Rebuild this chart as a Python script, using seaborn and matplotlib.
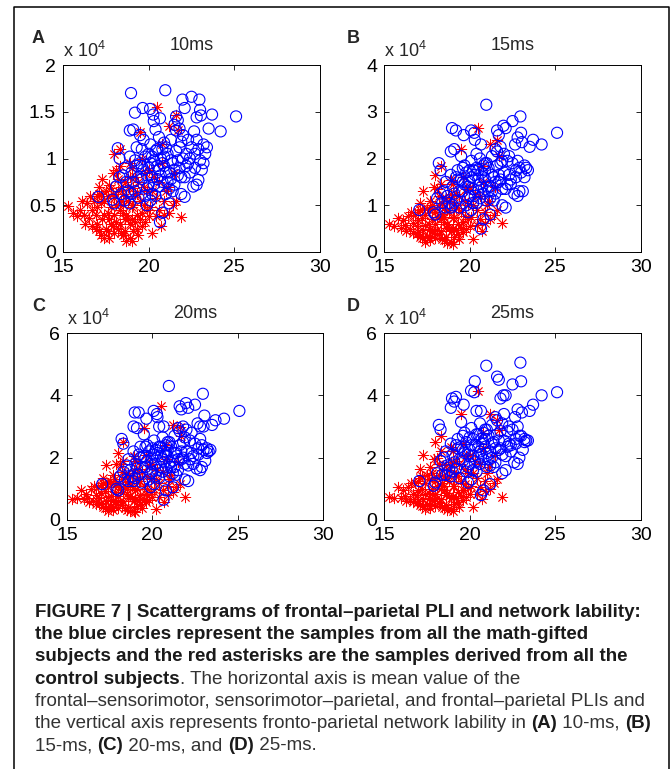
import matplotlib
matplotlib.use('Agg')
import matplotlib.pyplot as plt
from matplotlib.lines import Line2D
import seaborn as sns

# ------------------- data -------------------
# mean frontal-sensorimotor / sensorimotor-parietal / frontal-parietal PLI (same in all panels)
gifted_pli = [18.97, 20.97, 22.50, 22.96, 25.10, 23.70, 24.20, 23.50, 19.20, 19.65,
              20.08, 20.27, 20.66, 21.70, 22.10, 21.97, 23.00, 23.05, 22.80, 22.65,
              18.90, 19.10, 20.40, 18.20, 17.06, 20.66, 22.10, 22.80, 22.90, 17.90,
              18.00, 18.90, 21.20, 20.80, 19.90, 21.50, 21.60, 22.30, 23.20, 23.30,
              23.00, 22.70, 22.40, 23.10, 22.20, 21.90, 21.30, 20.90, 20.50, 20.10,
              19.70, 19.30, 18.90, 18.60, 18.30, 18.10, 18.40, 18.70, 19.00, 19.20,
              19.50, 19.60, 19.80, 19.90, 20.00, 20.20, 20.30, 20.40, 20.60, 20.70,
              20.80, 20.90, 21.00, 21.10, 21.20, 21.40, 21.50, 21.60, 21.80, 21.90,
              22.00, 22.10, 22.30, 22.50, 22.60, 19.40, 19.70, 20.10, 20.50, 20.20,
              20.80, 21.30, 21.70, 22.20, 19.00, 18.50, 19.30, 20.00, 21.00, 21.40,
              22.70, 23.40, 22.00, 21.80, 20.60, 19.50, 21.60, 20.30, 18.30, 19.10,
              19.60, 19.90, 20.10, 20.30, 20.50, 20.70, 20.90, 21.10, 21.30, 21.50,
              21.70, 21.90, 19.80, 20.40, 20.00, 19.40, 19.20, 18.80, 18.60, 21.20,
              20.60, 20.20, 21.80, 22.40, 22.90, 23.20, 22.80, 20.80, 21.00, 19.60]

# network lability (x 10^4)
gifted_10ms = [1.70, 1.73, 1.66, 1.63, 1.45, 1.47, 1.29, 1.32, 1.49, 1.54,
               1.53, 1.47, 1.43, 1.41, 1.54, 1.63, 1.52, 1.46, 1.44, 1.29,
               1.30, 1.31, 1.31, 1.11, 0.59, 0.32, 0.59, 0.72, 0.77, 0.56,
               0.52, 0.52, 0.52, 0.42, 0.50, 1.36, 1.30, 1.20, 1.15, 1.05,
               0.98, 0.90, 0.85, 0.88, 1.05, 1.18, 1.20, 1.17, 1.10, 1.15,
               1.20, 1.12, 1.02, 0.90, 0.80, 0.70, 0.62, 0.75, 0.85, 0.65,
               0.95, 0.78, 1.02, 0.68, 0.90, 0.80, 0.98, 0.60, 0.88, 1.00,
               0.75, 0.92, 0.62, 1.05, 0.85, 0.95, 0.72, 1.08, 0.90, 0.62,
               1.00, 0.80, 0.95, 1.12, 0.70, 0.58, 0.88, 0.55, 0.78, 1.02,
               1.10, 0.78, 0.82, 0.92, 0.62, 0.82, 0.92, 0.72, 0.85, 0.65,
               1.05, 1.12, 1.25, 1.32, 1.23, 1.25, 1.45, 1.40, 1.00, 0.75,
               0.92, 0.82, 0.95, 0.72, 0.92, 0.82, 1.02, 0.75, 0.98, 0.88,
               0.98, 0.80, 0.60, 1.08, 1.05, 0.80, 0.98, 0.65, 0.55, 0.68,
               0.70, 0.62, 1.12, 1.00, 1.10, 0.95, 1.20, 0.95, 1.12, 1.10]
gifted_15ms = [2.65, 3.15, 2.80, 2.90, 2.55, 2.40, 2.30, 2.25, 2.60, 2.50,
               2.60, 2.55, 2.30, 2.50, 2.65, 2.70, 2.55, 2.35, 2.45, 2.30,
               2.15, 2.20, 2.10, 1.90, 0.90, 0.50, 0.95, 1.20, 1.30, 0.85,
               0.80, 0.95, 0.80, 0.70, 0.85, 2.20, 2.15, 2.05, 1.85, 1.80,
               1.70, 1.60, 1.45, 1.30, 1.95, 1.95, 2.05, 1.90, 1.75, 1.95,
               1.85, 1.75, 1.65, 1.50, 1.25, 1.15, 1.05, 1.20, 1.40, 1.10,
               1.55, 1.30, 1.70, 1.15, 1.50, 1.35, 1.65, 1.05, 1.45, 1.70,
               1.25, 1.55, 1.10, 1.80, 1.40, 1.60, 1.25, 1.85, 1.55, 1.00,
               1.70, 1.35, 1.65, 1.90, 1.25, 0.95, 1.45, 0.90, 1.30, 1.75,
               1.85, 1.30, 1.50, 1.45, 1.00, 1.30, 1.55, 1.20, 1.40, 1.10,
               1.75, 1.75, 2.10, 2.25, 2.00, 2.05, 2.60, 2.40, 1.75, 1.25,
               1.50, 1.40, 1.60, 1.20, 1.55, 1.40, 1.75, 1.30, 1.65, 1.50,
               1.65, 1.35, 1.00, 1.80, 1.75, 1.30, 1.60, 1.05, 0.95, 1.15,
               1.15, 1.05, 1.90, 1.55, 1.80, 1.60, 1.95, 1.60, 1.90, 1.80]
gifted_20ms = [3.45, 4.30, 3.70, 4.05, 3.50, 3.20, 3.25, 3.05, 3.45, 3.25,
               3.50, 3.40, 3.00, 3.55, 3.60, 3.75, 3.00, 3.35, 3.00, 3.10,
               3.00, 2.95, 3.00, 2.60, 1.15, 0.65, 1.25, 1.60, 1.70, 1.00,
               0.95, 1.25, 1.05, 0.95, 1.05, 2.95, 2.85, 2.80, 2.30, 2.20,
               2.25, 2.10, 1.80, 1.90, 2.55, 2.65, 2.70, 2.50, 2.35, 2.55,
               2.40, 2.35, 2.20, 1.95, 1.55, 1.40, 1.30, 1.60, 1.80, 1.45,
               2.05, 1.70, 2.20, 1.50, 2.00, 1.80, 2.15, 1.35, 1.95, 2.20,
               1.65, 2.05, 1.40, 2.35, 1.90, 2.15, 1.60, 2.40, 2.00, 1.30,
               2.20, 1.75, 2.15, 2.45, 1.65, 1.20, 1.90, 1.15, 1.70, 2.25,
               2.40, 1.70, 1.95, 1.95, 1.35, 1.75, 2.00, 1.55, 1.85, 1.45,
               2.30, 2.25, 2.90, 3.00, 2.65, 2.75, 3.65, 3.30, 2.45, 1.65,
               2.00, 1.80, 2.10, 1.60, 2.05, 1.85, 2.25, 1.70, 2.15, 1.95,
               2.20, 1.80, 1.30, 2.35, 2.30, 1.70, 2.10, 1.40, 1.25, 1.50,
               1.55, 1.40, 2.50, 2.05, 2.40, 2.15, 2.60, 2.10, 2.50, 2.35]
gifted_25ms = [3.90, 4.95, 4.35, 5.05, 4.10, 3.70, 4.00, 3.50, 3.95, 3.70,
               4.15, 4.10, 3.50, 4.50, 4.00, 4.00, 4.45, 3.45, 3.55, 3.30,
               3.60, 3.80, 3.50, 3.05, 1.25, 0.80, 1.60, 1.80, 2.00, 1.10,
               1.20, 1.40, 1.15, 0.95, 1.20, 3.30, 3.20, 3.00, 2.60, 2.55,
               2.70, 2.45, 2.20, 2.25, 2.85, 3.10, 3.05, 2.90, 2.75, 2.95,
               2.80, 2.60, 2.45, 2.20, 1.90, 1.50, 1.45, 1.75, 2.10, 1.65,
               2.35, 1.90, 2.50, 1.70, 2.25, 2.05, 2.40, 1.55, 2.20, 2.60,
               1.95, 2.35, 1.70, 2.70, 2.20, 2.50, 1.85, 2.75, 2.30, 1.50,
               2.55, 2.05, 2.45, 2.90, 1.85, 1.35, 2.15, 1.30, 2.00, 2.60,
               2.80, 2.00, 2.25, 2.35, 1.55, 2.00, 2.30, 1.80, 2.15, 1.70,
               2.60, 2.55, 3.40, 3.90, 3.10, 3.15, 4.60, 4.45, 2.90, 1.85,
               2.25, 2.10, 2.40, 1.85, 2.35, 2.10, 2.60, 1.95, 2.45, 2.30,
               2.55, 2.10, 1.55, 2.75, 2.65, 1.95, 2.40, 1.60, 1.45, 1.75,
               1.80, 1.60, 2.85, 2.40, 2.70, 2.50, 3.00, 2.45, 2.90, 2.70]

control_pli = [15.30, 15.60, 15.80, 16.00, 16.20, 16.40, 16.50, 16.70, 16.80, 17.00,
               17.10, 17.20, 17.30, 17.40, 17.50, 17.60, 17.70, 17.80, 17.90, 18.00,
               18.10, 18.20, 18.30, 18.40, 18.50, 18.60, 18.70, 18.80, 18.90, 19.00,
               19.10, 19.20, 19.30, 19.40, 19.50, 19.60, 19.70, 19.80, 20.00, 20.20,
               20.40, 20.50, 20.60, 20.80, 21.00, 21.20, 21.40, 21.60, 21.70, 21.90,
               21.50, 20.30, 16.90, 17.20, 17.50, 17.70, 17.90, 18.00, 18.10, 18.30,
               18.50, 18.60, 18.80, 18.90, 19.00, 19.20, 19.40, 19.50, 19.90, 20.10,
               17.30, 17.00, 16.60, 17.60, 18.20, 18.70, 19.10, 19.30, 18.40, 17.80,
               16.30, 20.70, 21.20, 18.90, 18.00, 19.60, 20.90, 17.10, 19.80, 18.50,
               16.70, 16.90, 17.10, 17.20, 17.40, 17.40, 17.60, 17.70, 17.80, 17.90,
               18.00, 18.10, 18.20, 18.30, 18.40, 18.50, 18.60, 18.70, 18.80, 18.90,
               19.00, 19.10, 19.20, 19.30, 19.50, 19.70, 19.90, 20.00, 20.20, 20.40,
               20.60, 20.90, 21.10, 21.60, 16.10, 17.00, 18.30, 19.60, 20.80, 19.00]
control_10ms = [0.49, 0.42, 0.38, 0.45, 0.40, 0.52, 0.36, 0.45, 0.55, 0.30,
                0.70, 0.18, 0.78, 0.40, 0.25, 0.60, 0.15, 0.48, 0.85, 1.05,
                0.32, 0.65, 1.10, 0.20, 0.42, 0.75, 0.12, 0.55, 0.30, 0.90,
                0.22, 0.62, 0.40, 0.75, 1.28, 0.28, 0.50, 0.85, 0.38, 0.20,
                0.58, 1.55, 0.45, 0.95, 0.65, 1.35, 0.50, 1.47, 1.30, 0.37,
                0.85, 0.80, 0.25, 0.52, 0.65, 0.35, 0.28, 0.58, 0.88, 0.45,
                0.18, 0.35, 0.70, 0.15, 0.48, 0.32, 0.18, 0.55, 0.65, 0.48,
                0.35, 0.48, 0.60, 0.22, 0.25, 0.40, 0.68, 0.25, 0.55, 0.68,
                0.30, 0.28, 0.42, 0.95, 0.40, 0.42, 0.55, 0.62, 0.32, 0.62,
                0.28, 0.40, 0.22, 0.62, 0.55, 0.15, 0.42, 0.72, 0.30, 0.62,
                0.20, 0.50, 0.78, 0.30, 0.70, 0.50, 0.22, 0.60, 0.35, 0.80,
                0.35, 0.50, 0.80, 0.62, 0.35, 0.70, 0.45, 0.88, 0.65, 0.38,
                0.75, 0.40, 0.70, 0.55, 0.55, 0.60, 0.92, 1.00, 1.15, 0.12]
control_15ms = [0.60, 0.55, 0.72, 0.52, 0.58, 0.78, 0.50, 0.62, 0.80, 0.42,
                1.05, 0.30, 1.30, 0.58, 0.35, 0.90, 0.25, 0.70, 1.40, 1.65,
                0.48, 1.00, 1.85, 0.28, 0.65, 1.15, 0.20, 0.85, 0.45, 1.45,
                0.32, 0.95, 0.60, 1.20, 2.20, 0.42, 0.78, 1.35, 0.55, 0.28,
                0.90, 2.65, 0.70, 1.50, 1.00, 2.30, 0.80, 2.40, 2.05, 0.62,
                1.40, 1.25, 0.38, 0.72, 0.95, 0.50, 0.40, 0.85, 1.35, 0.70,
                0.25, 0.52, 1.10, 0.22, 0.72, 0.48, 0.28, 0.85, 1.00, 0.75,
                0.48, 0.68, 0.85, 0.32, 0.38, 0.60, 1.05, 0.38, 0.82, 1.00,
                0.45, 0.45, 0.70, 1.55, 0.60, 0.65, 0.85, 0.90, 0.50, 0.95,
                0.40, 0.55, 0.32, 0.92, 0.80, 0.22, 0.60, 1.10, 0.45, 0.92,
                0.30, 0.75, 1.20, 0.45, 1.05, 0.75, 0.32, 0.90, 0.52, 1.25,
                0.52, 0.75, 1.25, 0.95, 0.52, 1.10, 0.70, 1.40, 1.00, 0.58,
                1.20, 0.62, 1.10, 0.90, 0.68, 0.85, 1.45, 1.60, 1.85, 0.18]
control_20ms = [0.68, 0.70, 0.95, 0.68, 0.72, 0.98, 0.62, 0.80, 1.05, 0.55,
                1.35, 0.40, 1.75, 0.75, 0.45, 1.15, 0.32, 0.90, 1.80, 2.15,
                0.62, 1.30, 2.50, 0.38, 0.85, 1.50, 0.28, 1.10, 0.60, 1.90,
                0.45, 1.25, 0.80, 1.55, 2.95, 0.58, 1.00, 1.75, 0.75, 0.35,
                1.20, 3.65, 0.95, 1.95, 1.30, 3.05, 1.05, 3.00, 2.70, 0.75,
                1.85, 1.60, 0.50, 0.92, 1.25, 0.65, 0.52, 1.10, 1.80, 0.90,
                0.32, 0.70, 1.40, 0.30, 0.95, 0.65, 0.38, 1.10, 1.30, 1.00,
                0.62, 0.88, 1.10, 0.42, 0.48, 0.78, 1.35, 0.50, 1.05, 1.30,
                0.58, 0.58, 0.90, 2.05, 0.78, 0.85, 1.10, 1.18, 0.65, 1.22,
                0.52, 0.72, 0.42, 1.20, 1.05, 0.30, 0.78, 1.45, 0.58, 1.20,
                0.40, 0.98, 1.55, 0.60, 1.38, 0.98, 0.42, 1.18, 0.70, 1.62,
                0.68, 0.98, 1.65, 1.25, 0.68, 1.42, 0.90, 1.80, 1.30, 0.75,
                1.55, 0.80, 1.45, 1.15, 0.85, 1.12, 1.90, 2.10, 2.40, 0.25]
control_25ms = [0.75, 0.72, 1.05, 0.70, 0.78, 1.05, 0.68, 0.85, 1.20, 0.60,
                1.65, 0.45, 2.10, 0.82, 0.52, 1.30, 0.40, 1.00, 1.95, 2.50,
                0.70, 1.45, 2.70, 0.42, 0.95, 1.75, 0.32, 1.25, 0.70, 2.20,
                0.50, 1.40, 0.90, 1.80, 3.40, 0.65, 1.15, 2.05, 0.85, 0.42,
                1.35, 4.15, 1.05, 2.30, 1.50, 3.40, 1.20, 3.20, 2.90, 0.75,
                2.10, 1.90, 0.55, 1.00, 1.45, 0.72, 0.60, 1.25, 2.00, 1.00,
                0.38, 0.80, 1.60, 0.35, 1.10, 0.72, 0.42, 1.25, 1.50, 1.10,
                0.68, 0.95, 1.20, 0.48, 0.55, 0.88, 1.55, 0.58, 1.20, 1.50,
                0.62, 0.68, 1.00, 2.35, 0.85, 0.95, 1.25, 1.35, 0.75, 1.40,
                0.58, 0.80, 0.48, 1.40, 1.18, 0.35, 0.88, 1.70, 0.65, 1.35,
                0.45, 1.10, 1.80, 0.68, 1.60, 1.10, 0.48, 1.35, 0.78, 1.85,
                0.78, 1.10, 1.90, 1.42, 0.78, 1.65, 1.02, 2.10, 1.50, 0.85,
                1.80, 0.92, 1.70, 1.30, 0.95, 1.25, 2.20, 2.45, 2.80, 0.30]

panel_letters = ['A', 'B', 'C', 'D']
panel_titles = ['10ms', '15ms', '20ms', '25ms']
gifted_y = [gifted_10ms, gifted_15ms, gifted_20ms, gifted_25ms]
control_y = [control_10ms, control_15ms, control_20ms, control_25ms]
y_ticks = [[0, 0.5, 1, 1.5, 2], [0, 1, 2, 3, 4], [0, 2, 4, 6], [0, 2, 4, 6]]
y_ticklabels = [['0', '0.5', '1', '1.5', '2'], ['0', '1', '2', '3', '4'],
                ['0', '2', '4', '6'], ['0', '2', '4', '6']]
x_ticks = [15, 20, 25, 30]

caption_lines = [
    [("FIGURE 7 | Scattergrams of frontal\u2013parietal PLI and network lability:", True)],
    [("the blue circles represent the samples from all the math-gifted", True)],
    [("subjects and the red asterisks are the samples derived from all the", True)],
    [("control subjects", True), (". The horizontal axis is mean value of the", False)],
    [("frontal\u2013sensorimotor, sensorimotor\u2013parietal, and frontal\u2013parietal PLIs and", False)],
    [("the vertical axis represents fronto-parietal network lability in ", False), ("(A)", True),
     (" 10-ms, ", False), ("(B)", True)],
    [("15-ms, ", False), ("(C)", True), (" 20-ms, and ", False), ("(D)", True), (" 25-ms.", False)],
]

# ------------------- figure -------------------
W, H = 671, 769
sns.set_style('ticks')
plt.rcParams['font.family'] = ['Liberation Sans', 'DejaVu Sans']
plt.rcParams['mathtext.fontset'] = 'custom'
plt.rcParams['mathtext.rm'] = 'Liberation Sans'
plt.rcParams['mathtext.default'] = 'regular'


def px(x, y):
    # 像素坐标 -> figure 坐标
    return x / W, 1 - y / H


fig = plt.figure(figsize=(W / 100, H / 100), dpi=100)

# axes boxes in pixels: left, top, right, bottom
boxes = [(63, 65, 320, 252), (384, 65, 641, 252), (67, 333, 323, 520), (384, 333, 641, 520)]
letter_x = [32, 347, 32, 347]

for i, (l, t, r, b) in enumerate(boxes):
    ax = fig.add_axes([l / W, 1 - b / H, (r - l) / W, (b - t) / H])
    # control (red asterisks) underneath, gifted (blue circles) on top
    sns.scatterplot(x=control_pli, y=control_y[i], ax=ax, marker=(8, 2, 0), s=58,
                    color='#ff0000', linewidth=0.6, legend=False)
    sns.scatterplot(x=gifted_pli, y=gifted_y[i], ax=ax, marker='o', s=64,
                    facecolor='none', edgecolor='#0000ff', linewidth=0.8, legend=False)
    ax.set_xlim(15, 30)
    ax.set_ylim(y_ticks[i][0], y_ticks[i][-1])
    ax.set_xticks(x_ticks)
    ax.set_xticklabels([str(v) for v in x_ticks])
    ax.set_yticks(y_ticks[i])
    ax.set_yticklabels(y_ticklabels[i])
    ax.set_xlabel('')
    ax.set_ylabel('')
    ax.tick_params(direction='in', top=True, right=True, length=3.5, width=0.6,
                   labelsize=14, pad=5, colors='black')
    for sp in ax.spines.values():
        sp.set_visible(True)
        sp.set_linewidth(0.7)
        sp.set_color('black')

    fig.text(*px(letter_x[i], t - 22), panel_letters[i], fontsize=13, fontweight='bold',
             va='baseline', ha='left')
    fig.text(*px(l, t - 8), r'x $10^4$', fontsize=13, va='baseline', ha='left')
    fig.text(*px((l + r) / 2, t - 15), panel_titles[i], fontsize=13, va='baseline', ha='center')

# outer frame (left, top, right; open at the bottom)
fx0, fx1, fy = 13.5 / W, 668.5 / W, 1 - 7 / H
fig.add_artist(Line2D([fx0, fx0, fx1, fx1], [0, fy, fy, 0], color='black', lw=1.1))

# caption
renderer = fig.canvas.get_renderer()
cap_family = ['Liberation Sans Narrow', 'Liberation Sans', 'DejaVu Sans']
probe = fig.text(0, 0, caption_lines[0][0][0], fontsize=12, fontweight='bold', family=cap_family)
cap_size = 12 * 606 / probe.get_window_extent(renderer).width
probe.remove()

y0, dy = 617, 22.2
for k, line in enumerate(caption_lines):
    x = 35.0
    for text, bold in line:
        tt = fig.text(*px(x, y0 + k * dy), text, fontsize=cap_size,
                      fontweight='bold' if bold else 'normal',
                      color='#1a1a1a' if bold else '#333333',
                      family=cap_family, va='baseline', ha='left')
        x += tt.get_window_extent(renderer).width

fig.savefig('out.png', dpi=100)
